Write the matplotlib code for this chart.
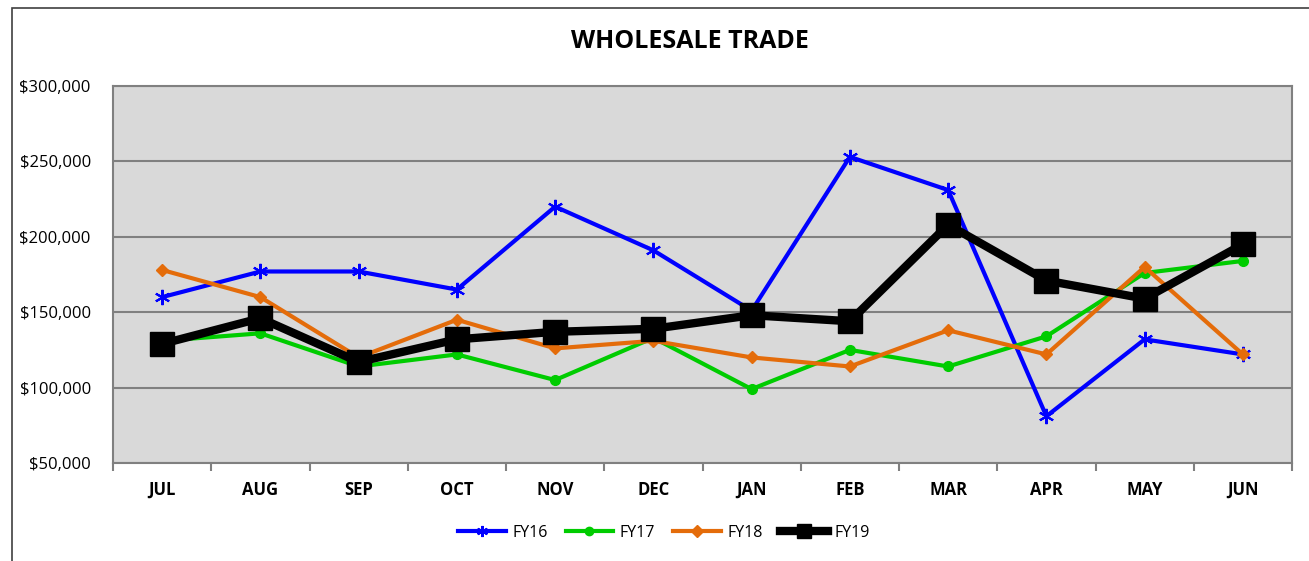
import matplotlib.pyplot as plt
import matplotlib.ticker as mticker
from matplotlib.patches import Rectangle

months = ["JUL", "AUG", "SEP", "OCT", "NOV", "DEC", "JAN", "FEB", "MAR", "APR", "MAY", "JUN"]
fy16 = [160000, 177000, 177000, 165000, 220000, 191000, 151000, 253000, 231000, 81000, 132000, 122000]
fy17 = [131000, 136000, 114000, 122000, 105000, 133000, 99000, 125000, 114000, 134000, 176000, 184000]
fy18 = [178000, 160000, 120000, 145000, 126000, 131000, 120000, 114000, 138000, 122000, 180000, 122000]
fy19 = [129000, 146000, 117000, 132000, 137000, 139000, 148000, 144000, 208000, 171000, 159000, 195000]

W, H = 1309, 561
fig = plt.figure(figsize=(W / 100, H / 100), dpi=100)
plt.rcParams['font.family'] = ['Open Sans', 'DejaVu Sans']

# outer chart border
fig.patches.append(Rectangle((12 / W, -0.1), 1.2, 1 - 8 / H + 0.1, transform=fig.transFigure,
                             fill=False, edgecolor="#404040", linewidth=1.2))

ax = fig.add_axes([113 / W, (H - 463) / H, 1179 / W, 377 / H])
ax.set_facecolor("#D9D9D9")
x = list(range(len(months)))

ax.plot(x, fy16, color="#0000FF", lw=3, marker=(6, 2, 0), ms=11, mew=1.5, label="FY16")
ax.plot(x, fy17, color="#00CC00", lw=3, marker="o", ms=7, label="FY17")
ax.plot(x, fy18, color="#E46C0A", lw=3, marker="D", ms=6, label="FY18")
ax.plot(x, fy19, color="black", lw=6, marker="s", ms=17, label="FY19")

ax.set_xlim(-0.5, len(months) - 0.5)
ax.set_ylim(50000, 300000)
ax.yaxis.set_major_locator(mticker.MultipleLocator(50000))
ax.yaxis.set_major_formatter(mticker.FuncFormatter(lambda v, p: f"${v:,.0f}"))
ax.grid(axis="y", color="#808080", lw=1.5)
ax.set_axisbelow(True)

ax.set_xticks([i - 0.5 for i in range(len(months) + 1)])
ax.set_xticklabels([])
ax.set_xticks(x, minor=True)
ax.set_xticklabels(months, minor=True, fontweight="bold", fontsize=12)
ax.tick_params(axis="x", which="major", length=6, color="#808080", width=1.5)
ax.tick_params(axis="x", which="minor", length=0, pad=13)
ax.tick_params(axis="y", length=0, labelsize=12, pad=16)
for s in ax.spines.values():
    s.set_color("#808080")
    s.set_linewidth(1.5)

fig.text(690 / W, 1 - 42 / H, "WHOLESALE TRADE", ha="center", va="center",
         fontsize=18, fontweight="bold")

leg = fig.legend(loc="center", bbox_to_anchor=(664 / W, 1 - 533 / H), ncol=4, frameon=False,
                 fontsize=11.5, handlelength=3.0, columnspacing=1.1, handletextpad=0.4)
for h, ms in zip(leg.legend_handles, [8, 6, 6, 10]):
    h.set_markersize(ms)

fig.savefig("out.png", dpi=100)
